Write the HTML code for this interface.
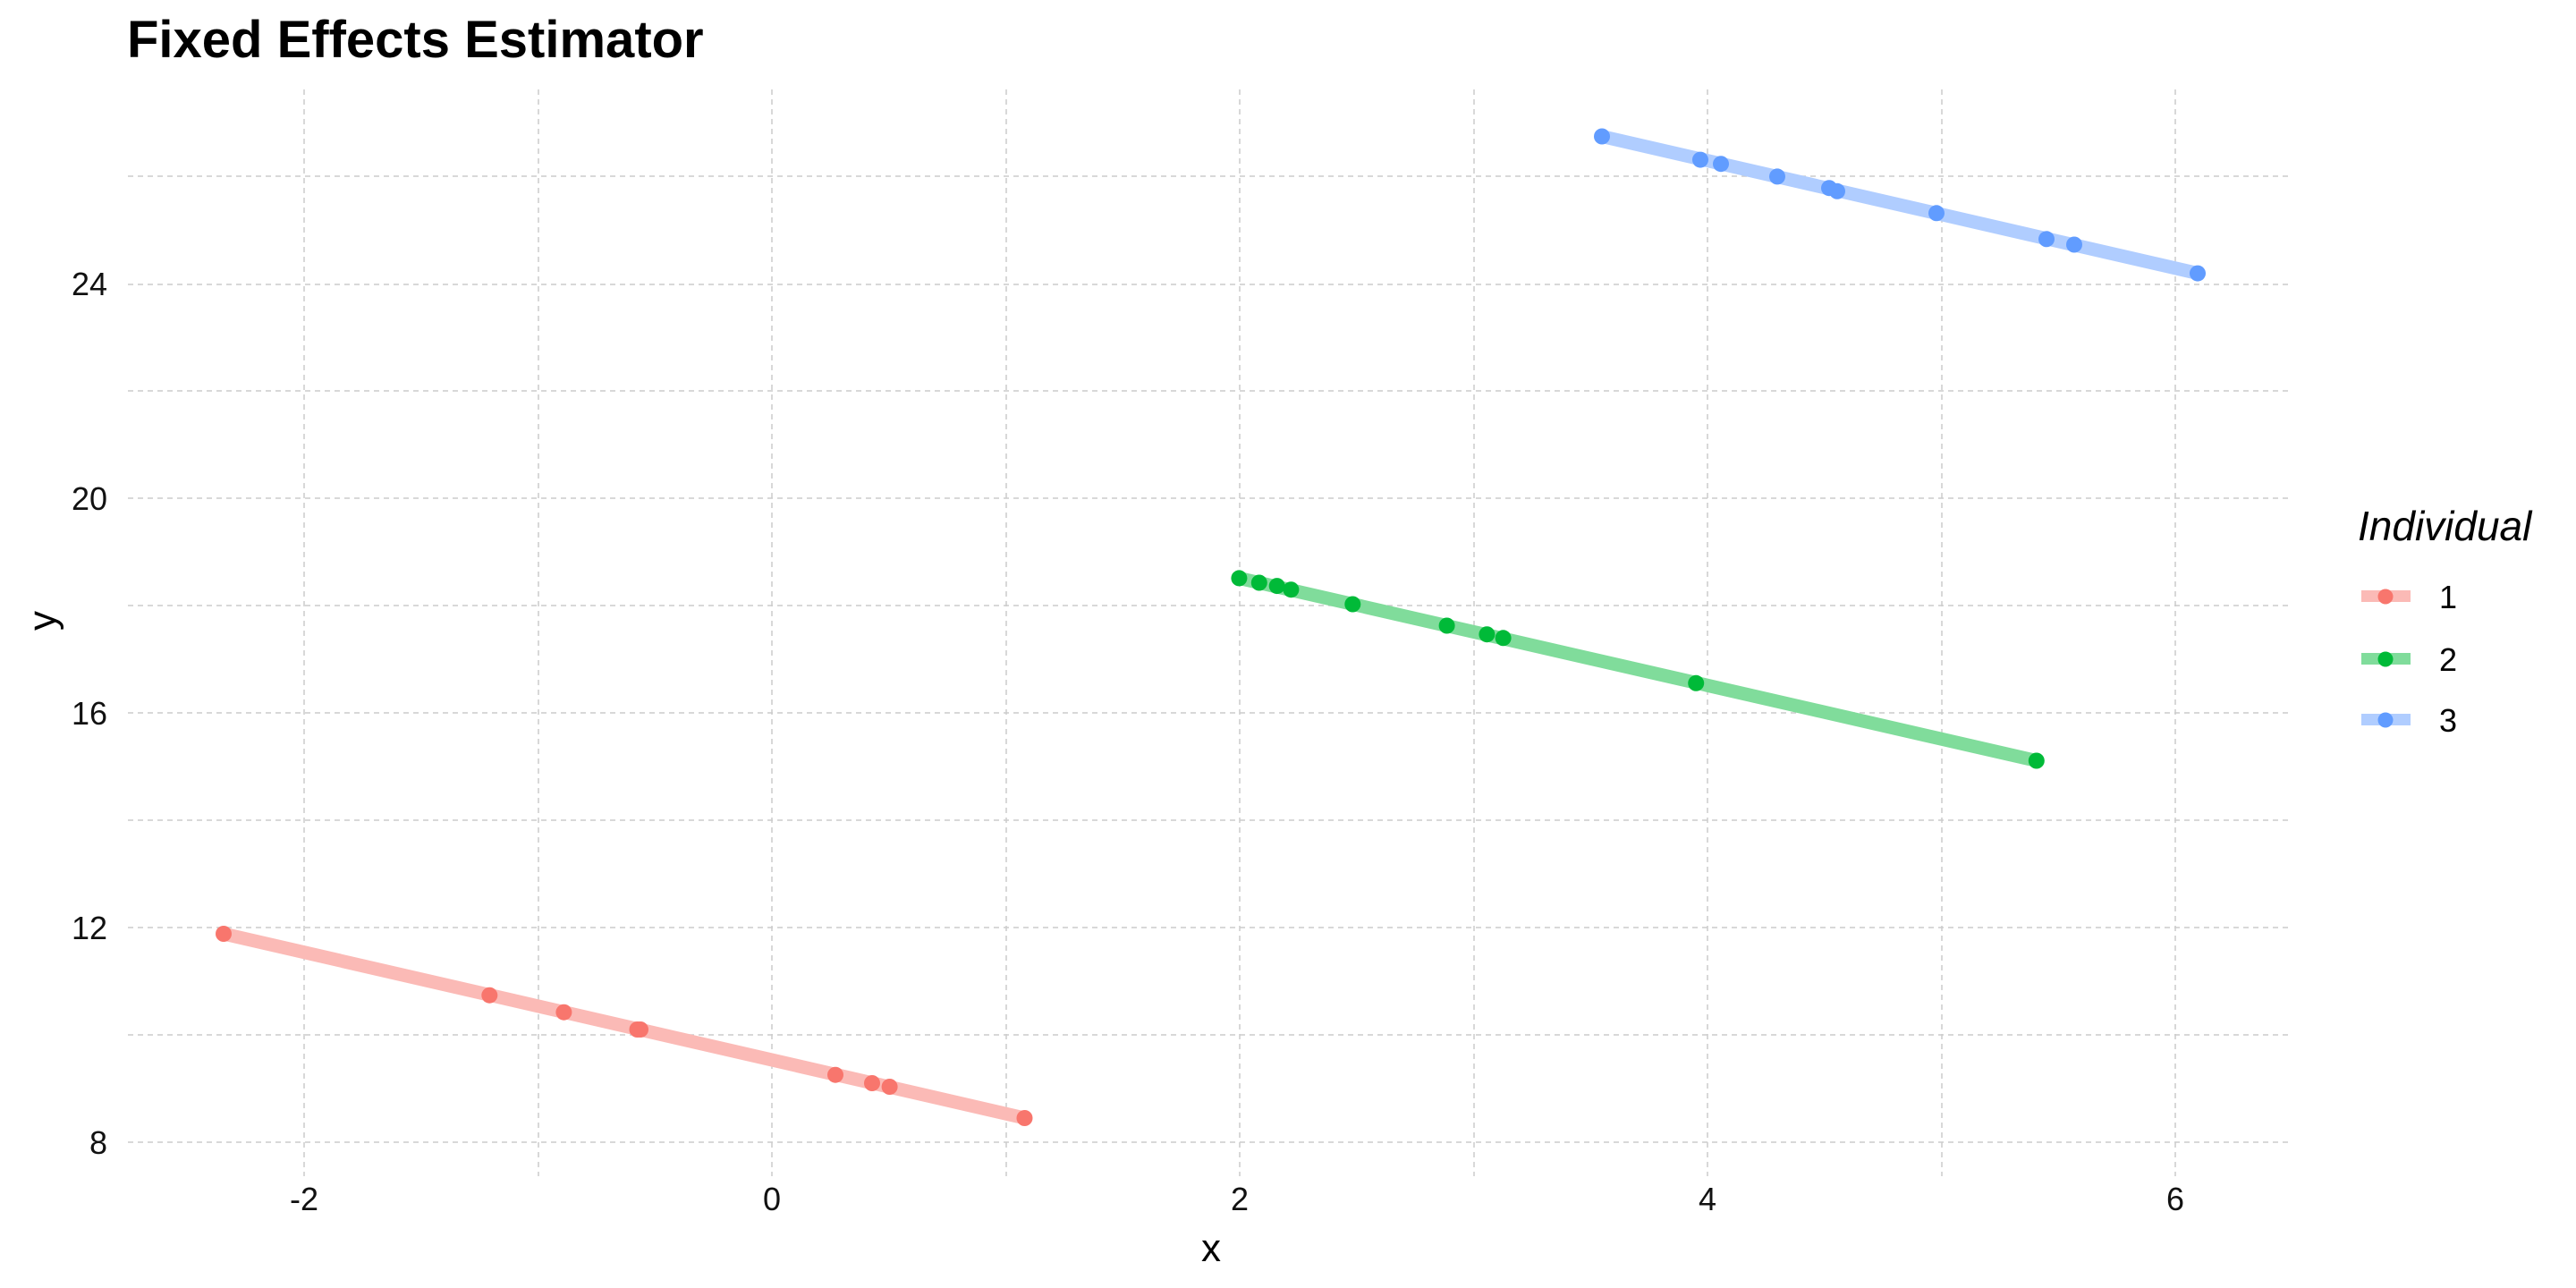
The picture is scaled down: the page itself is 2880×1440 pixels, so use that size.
<!DOCTYPE html>
<html><head><meta charset="utf-8"><style>html,body{margin:0;padding:0;background:#fff}svg{display:block}</style></head>
<body>
<svg width="2880" height="1440" viewBox="0 0 2880 1440" xmlns="http://www.w3.org/2000/svg" font-family="Liberation Sans, Arial, sans-serif">
<rect width="2880" height="1440" fill="#fff"/>
<g stroke="#cccccc" stroke-width="1.5" stroke-dasharray="6,5" fill="none">
<line x1="143" x2="2563" y1="1277" y2="1277"/>
<line x1="143" x2="2563" y1="1157" y2="1157"/>
<line x1="143" x2="2563" y1="1037" y2="1037"/>
<line x1="143" x2="2563" y1="917" y2="917"/>
<line x1="143" x2="2563" y1="797" y2="797"/>
<line x1="143" x2="2563" y1="677" y2="677"/>
<line x1="143" x2="2563" y1="557" y2="557"/>
<line x1="143" x2="2563" y1="437" y2="437"/>
<line x1="143" x2="2563" y1="318" y2="318"/>
<line x1="143" x2="2563" y1="197" y2="197"/>
<line y1="100" y2="1315" x1="340" x2="340"/>
<line y1="100" y2="1315" x1="602" x2="602"/>
<line y1="100" y2="1315" x1="863" x2="863"/>
<line y1="100" y2="1315" x1="1125" x2="1125"/>
<line y1="100" y2="1315" x1="1386" x2="1386"/>
<line y1="100" y2="1315" x1="1648" x2="1648"/>
<line y1="100" y2="1315" x1="1909" x2="1909"/>
<line y1="100" y2="1315" x1="2171" x2="2171"/>
<line y1="100" y2="1315" x1="2432" x2="2432"/>
</g>
<g stroke-width="15" stroke-linecap="butt">
<line x1="250" y1="1044" x2="1145.5" y2="1250" stroke="#FBBAB6"/>
<line x1="1385.4" y1="646.4" x2="2276.8" y2="850.5" stroke="#80DC9B"/>
<line x1="1791" y1="152.5" x2="2457" y2="305.6" stroke="#B0CDFF"/>
</g>
<g fill="#F8766D">
<circle cx="250" cy="1044" r="9"/><circle cx="547.3" cy="1112.7" r="9"/><circle cx="630.4" cy="1131.7" r="9"/><circle cx="712.5" cy="1151" r="9"/><circle cx="716" cy="1151" r="9"/><circle cx="934" cy="1201.7" r="9"/><circle cx="975" cy="1211" r="9"/><circle cx="994.6" cy="1215" r="9"/><circle cx="1145.5" cy="1250" r="9"/>
</g>
<g fill="#00BA38">
<circle cx="1385.4" cy="646.4" r="9"/><circle cx="1407.8" cy="651.5" r="9"/><circle cx="1427.7" cy="655.1" r="9"/><circle cx="1443.4" cy="659.2" r="9"/><circle cx="1512.3" cy="675.5" r="9"/><circle cx="1617.6" cy="699.5" r="9"/><circle cx="1662.4" cy="709.2" r="9"/><circle cx="1680.6" cy="713.3" r="9"/><circle cx="1896.2" cy="763.8" r="9"/><circle cx="2276.8" cy="850.5" r="9"/>
</g>
<g fill="#619CFF">
<circle cx="1791" cy="152.5" r="9"/><circle cx="1901" cy="178.6" r="9"/><circle cx="1924" cy="183.2" r="9"/><circle cx="1987" cy="197.4" r="9"/><circle cx="2045" cy="210.2" r="9"/><circle cx="2054" cy="213.8" r="9"/><circle cx="2165" cy="238.3" r="9"/><circle cx="2288" cy="267.3" r="9"/><circle cx="2319" cy="273.5" r="9"/><circle cx="2457" cy="305.6" r="9"/>
</g>
<text x="142" y="64" font-size="58" font-weight="bold" fill="#000">Fixed Effects Estimator</text>
<g font-size="36" fill="#111" text-anchor="end">
<text x="120" y="330">24</text>
<text x="120" y="570">20</text>
<text x="120" y="810">16</text>
<text x="120" y="1050">12</text>
<text x="120" y="1290">8</text>
</g>
<g font-size="36" fill="#111" text-anchor="middle">
<text x="340" y="1353">-2</text>
<text x="863" y="1353">0</text>
<text x="1386" y="1353">2</text>
<text x="1909" y="1353">4</text>
<text x="2432" y="1353">6</text>
</g>
<text x="1354" y="1410" font-size="44" text-anchor="middle" fill="#000">x</text>
<text transform="translate(62,694) rotate(-90)" font-size="44" text-anchor="middle" fill="#000">y</text>
<text x="2636" y="604" font-size="46" font-style="italic" fill="#000">Individual</text>
<g>
<rect x="2640" y="660" width="55" height="13" fill="#FBBAB6"/><circle cx="2667" cy="667" r="8.5" fill="#F8766D"/>
<rect x="2640" y="730" width="55" height="13" fill="#80DC9B"/><circle cx="2667" cy="737" r="8.5" fill="#00BA38"/>
<rect x="2640" y="798" width="55" height="13" fill="#B0CDFF"/><circle cx="2667" cy="805" r="8.5" fill="#619CFF"/>
</g>
<g font-size="36" fill="#000">
<text x="2727" y="680">1</text>
<text x="2727" y="750">2</text>
<text x="2727" y="818">3</text>
</g>
</svg>
</body></html>
